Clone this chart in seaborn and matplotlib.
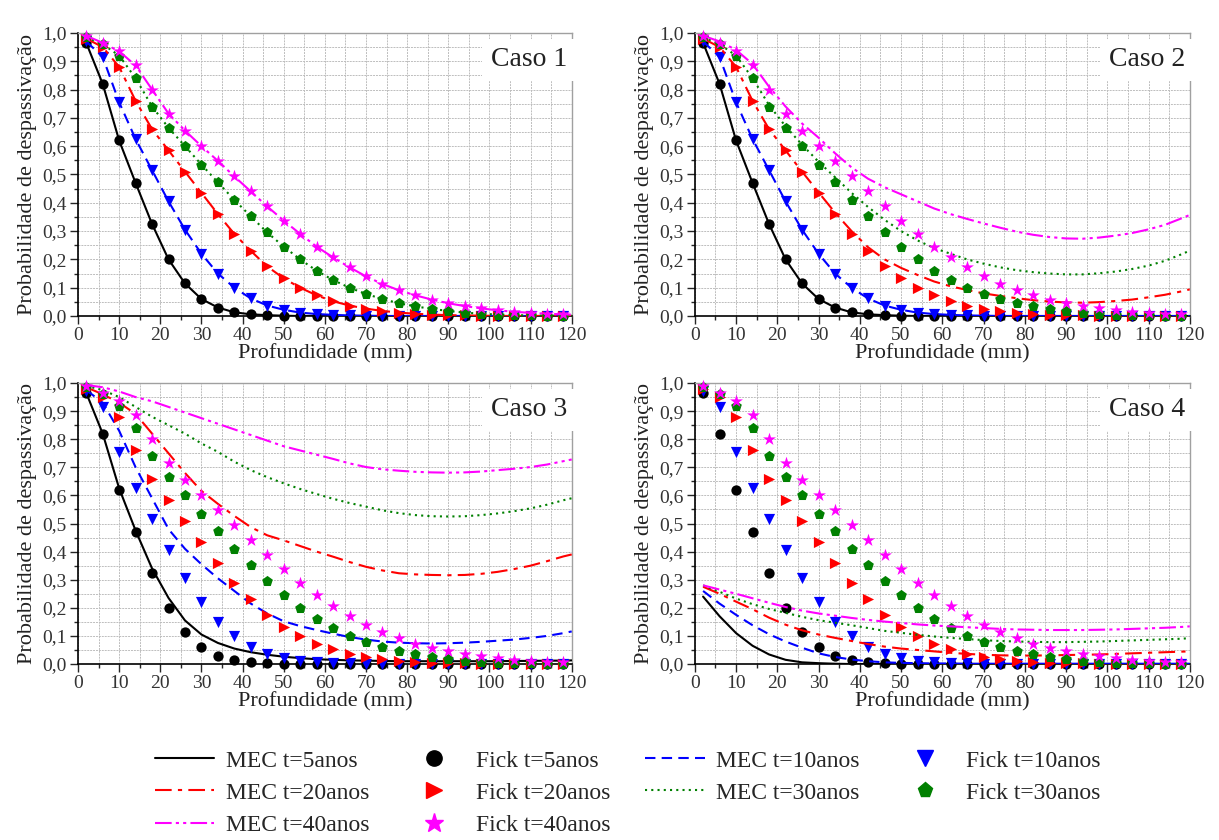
import matplotlib
matplotlib.use("Agg")
import matplotlib.pyplot as plt
import seaborn as sns
import pandas as pd
from matplotlib.ticker import MultipleLocator, FuncFormatter
from matplotlib.lines import Line2D

# ---------------- data ----------------
depth_fick = [2, 6, 10, 14, 18, 22, 26, 30, 34, 38, 42, 46, 50, 54, 58,
              62, 66, 70, 74, 78, 82, 86, 90, 94, 98, 102, 106, 110, 114, 118]
depth_mec = depth_fick + [120]

fick_t5 = [0.965, 0.82, 0.62, 0.47, 0.325, 0.20, 0.115, 0.06, 0.03, 0.013, 0.006, 0.003, 0.001,
           0, 0, 0, 0, 0, 0, 0, 0, 0, 0, 0, 0, 0, 0, 0, 0, 0]
fick_t10 = [0.97, 0.915, 0.755, 0.625, 0.515, 0.405, 0.305, 0.22, 0.15, 0.10, 0.062, 0.037, 0.022,
            0.012, 0.007, 0.004, 0.002, 0.001, 0, 0, 0, 0, 0, 0, 0, 0, 0, 0, 0, 0]
fick_t20 = [0.98, 0.95, 0.88, 0.76, 0.66, 0.585, 0.51, 0.435, 0.36, 0.29, 0.23, 0.175, 0.133, 0.10,
            0.073, 0.052, 0.037, 0.026, 0.018, 0.012, 0.008, 0.005, 0.003, 0.002, 0.001, 0, 0, 0, 0, 0]
fick_t30 = [0.985, 0.96, 0.92, 0.84, 0.74, 0.665, 0.60, 0.535, 0.472, 0.41, 0.352, 0.295, 0.245,
            0.20, 0.16, 0.127, 0.10, 0.078, 0.06, 0.045, 0.034, 0.025, 0.018, 0.012, 0.008, 0.005,
            0.003, 0.002, 0.001, 0.001]
fick_t40 = [0.99, 0.965, 0.935, 0.885, 0.80, 0.715, 0.655, 0.60, 0.548, 0.493, 0.44, 0.387, 0.337,
            0.29, 0.245, 0.207, 0.172, 0.14, 0.113, 0.091, 0.073, 0.058, 0.045, 0.035, 0.027, 0.02,
            0.015, 0.011, 0.008, 0.006]

# MEC curves, case 1 (coincide with Fick)
mec1_t5 = fick_t5 + [0.0]
mec1_t10 = fick_t10 + [0.0]
mec1_t20 = fick_t20 + [0.0]
mec1_t30 = fick_t30 + [0.001]
mec1_t40 = fick_t40 + [0.005]

# case 2
mec2_t5 = fick_t5 + [0.0]
mec2_t10 = fick_t10 + [0.0]
mec2_t20 = [0.98, 0.95, 0.88, 0.76, 0.66, 0.585, 0.51, 0.437, 0.365, 0.30, 0.243, 0.20, 0.17, 0.145,
            0.122, 0.105, 0.092, 0.080, 0.071, 0.063, 0.056, 0.051, 0.048, 0.047, 0.049, 0.053,
            0.058, 0.066, 0.075, 0.087, 0.094]
mec2_t30 = [0.985, 0.96, 0.92, 0.84, 0.745, 0.67, 0.605, 0.545, 0.49, 0.435, 0.385, 0.34, 0.30,
            0.267, 0.24, 0.22, 0.20, 0.185, 0.172, 0.162, 0.155, 0.15, 0.147, 0.147, 0.151, 0.157,
            0.166, 0.178, 0.195, 0.218, 0.231]
mec2_t40 = [0.99, 0.97, 0.94, 0.89, 0.81, 0.74, 0.68, 0.63, 0.575, 0.525, 0.485, 0.455, 0.43, 0.405,
            0.38, 0.36, 0.343, 0.327, 0.312, 0.298, 0.287, 0.279, 0.274, 0.273, 0.277, 0.284,
            0.293, 0.306, 0.322, 0.345, 0.357]

# case 3
mec3_t5 = [0.965, 0.82, 0.625, 0.475, 0.34, 0.235, 0.155, 0.105, 0.075, 0.055, 0.042, 0.033, 0.026,
           0.021, 0.017, 0.015, 0.013, 0.012, 0.011, 0.010, 0.010, 0.010, 0.010, 0.010, 0.010,
           0.010, 0.011, 0.011, 0.012, 0.012, 0.013]
mec3_t10 = [0.975, 0.93, 0.83, 0.70, 0.59, 0.48, 0.41, 0.355, 0.305, 0.26, 0.215, 0.18, 0.152, 0.135,
            0.121, 0.108, 0.096, 0.087, 0.080, 0.076, 0.074, 0.073, 0.074, 0.076, 0.079, 0.083,
            0.087, 0.093, 0.100, 0.110, 0.116]
mec3_t20 = [0.985, 0.96, 0.93, 0.89, 0.82, 0.75, 0.68, 0.616, 0.57, 0.527, 0.487, 0.458, 0.44, 0.42,
            0.40, 0.382, 0.363, 0.346, 0.333, 0.323, 0.319, 0.317, 0.316, 0.317, 0.321, 0.328,
            0.338, 0.35, 0.366, 0.383, 0.39]
mec3_t30 = [0.99, 0.975, 0.95, 0.915, 0.88, 0.85, 0.82, 0.785, 0.755, 0.72, 0.69, 0.665, 0.643,
            0.623, 0.605, 0.588, 0.573, 0.56, 0.547, 0.537, 0.53, 0.526, 0.525, 0.526, 0.53, 0.536,
            0.544, 0.554, 0.567, 0.583, 0.59]
mec3_t40 = [0.993, 0.985, 0.97, 0.95, 0.935, 0.915, 0.895, 0.875, 0.855, 0.835, 0.815, 0.795, 0.775,
            0.76, 0.745, 0.73, 0.714, 0.701, 0.693, 0.688, 0.684, 0.682, 0.681, 0.682, 0.685, 0.69,
            0.695, 0.701, 0.71, 0.722, 0.728]

# case 4
mec4_t5 = [0.24, 0.17, 0.11, 0.065, 0.034, 0.015, 0.006, 0.003, 0.001, 0, 0, 0, 0, 0, 0, 0, 0, 0,
           0, 0, 0, 0, 0, 0, 0, 0, 0, 0, 0, 0, 0]
mec4_t10 = [0.26, 0.215, 0.175, 0.138, 0.106, 0.08, 0.058, 0.038, 0.025, 0.016, 0.01, 0.006, 0.004,
            0.003, 0.002, 0.002, 0.001, 0.001, 0.001, 0.001, 0.001, 0.001, 0.001, 0.001, 0.001,
            0.001, 0.001, 0.001, 0.001, 0.001, 0.001]
mec4_t20 = [0.275, 0.25, 0.222, 0.195, 0.165, 0.14, 0.12, 0.105, 0.093, 0.082, 0.071, 0.062, 0.055,
            0.05, 0.045, 0.04, 0.036, 0.033, 0.031, 0.03, 0.03, 0.031, 0.032, 0.033, 0.034, 0.036,
            0.038, 0.04, 0.042, 0.044, 0.045]
mec4_t30 = [0.28, 0.257, 0.233, 0.213, 0.196, 0.182, 0.168, 0.156, 0.147, 0.138, 0.128, 0.118,
            0.111, 0.104, 0.098, 0.093, 0.089, 0.085, 0.082, 0.08, 0.079, 0.078, 0.078, 0.079,
            0.08, 0.082, 0.084, 0.086, 0.088, 0.09, 0.092]
mec4_t40 = [0.28, 0.265, 0.25, 0.234, 0.218, 0.203, 0.19, 0.18, 0.172, 0.164, 0.157, 0.151, 0.146,
            0.141, 0.137, 0.134, 0.131, 0.128, 0.125, 0.123, 0.122, 0.121, 0.121, 0.121, 0.122,
            0.123, 0.125, 0.127, 0.129, 0.132, 0.134]

case_titles = ["Caso 1", "Caso 2", "Caso 3", "Caso 4"]
periods = ["5", "10", "20", "30", "40"]
fick_series = [fick_t5, fick_t10, fick_t20, fick_t30, fick_t40]
mec_cases = [
    [mec1_t5, mec1_t10, mec1_t20, mec1_t30, mec1_t40],
    [mec2_t5, mec2_t10, mec2_t20, mec2_t30, mec2_t40],
    [mec3_t5, mec3_t10, mec3_t20, mec3_t30, mec3_t40],
    [mec4_t5, mec4_t10, mec4_t20, mec4_t30, mec4_t40],
]

# ---------------- styles ----------------
colors = ["#000000", "#0000FF", "#FF0000", "#008000", "#FF00FF"]
linestyles = ["-", (0, (5, 3)), (0, (8, 3, 2, 3)), (0, (1, 2)), (0, (8, 2, 1.5, 2, 1.5, 2))]
markers = ["o", "v", ">", "p", "*"]
msizes = [55, 65, 65, 65, 95]

sns.set_style("white")
plt.rcParams["font.family"] = ["Liberation Serif", "DejaVu Serif"]

fig = plt.figure(figsize=(12.19, 8.40), dpi=100)
positions = [
    [0.064, 0.6238, 0.405, 0.337],
    [0.570, 0.6238, 0.406, 0.337],
    [0.064, 0.2095, 0.405, 0.3345],
    [0.570, 0.2095, 0.406, 0.3345],
]

comma = FuncFormatter(lambda v, p: f"{v:.1f}".replace(".", ","))
intfmt = FuncFormatter(lambda v, p: f"{v:.0f}")

for ci, pos in enumerate(positions):
    ax = fig.add_axes(pos)
    for k in range(5):
        df_m = pd.DataFrame({"x": depth_mec, "y": mec_cases[ci][k]})
        sns.lineplot(data=df_m, x="x", y="y", ax=ax, color=colors[k], linestyle=linestyles[k],
                     linewidth=1.5, estimator=None, sort=False, zorder=3 + 2 * k)
        df_f = pd.DataFrame({"x": depth_fick, "y": fick_series[k]})
        sns.scatterplot(data=df_f, x="x", y="y", ax=ax, color=colors[k], marker=markers[k],
                        s=msizes[k], linewidth=0, edgecolor=colors[k], zorder=4 + 2 * k,
                        clip_on=False)
    ax.set_xlim(0, 120)
    ax.set_ylim(0, 1.0)
    ax.xaxis.set_major_locator(MultipleLocator(10))
    ax.xaxis.set_minor_locator(MultipleLocator(5))
    ax.yaxis.set_major_locator(MultipleLocator(0.1))
    ax.yaxis.set_minor_locator(MultipleLocator(0.05))
    ax.xaxis.set_major_formatter(intfmt)
    ax.yaxis.set_major_formatter(comma)
    ax.grid(which="both", color="#bdbdbd", linestyle=(0, (2, 1)), linewidth=0.7, zorder=0)
    ax.set_axisbelow(True)
    ax.tick_params(axis="both", which="major", direction="out", length=6, width=1,
                   labelsize=14, pad=2, bottom=True, left=True, top=False, right=False,
                   labelcolor="#333333")
    ax.tick_params(axis="both", which="minor", direction="out", length=3, width=1,
                   bottom=True, left=True, top=False, right=False)
    for side in ["left", "bottom"]:
        ax.spines[side].set_color("black")
        ax.spines[side].set_linewidth(1.2)
    for side in ["top", "right"]:
        ax.spines[side].set_color("#a0a0a0")
        ax.spines[side].set_linewidth(1.0)
    ax.set_xlabel("Profundidade (mm)", fontsize=16, labelpad=0, color="#222222")
    ax.set_ylabel("Probabilidade de despassivação", fontsize=16, labelpad=4, color="#222222")
    ax.text(0.99, 0.905, case_titles[ci], transform=ax.transAxes, ha="right", va="center",
            fontsize=20, zorder=20, color="#222222",
            bbox=dict(facecolor="white", edgecolor="none", pad=6))

# ---------------- legend ----------------
h_mec = [Line2D([], [], color=colors[k], linestyle=linestyles[k], linewidth=1.5) for k in range(5)]
h_fick = [Line2D([], [], color=colors[k], marker=markers[k], linestyle="none",
                 markersize=(11 if k != 4 else 14)) for k in range(5)]
lab_mec = [f"MEC t={p}anos" for p in periods]
lab_fick = [f"Fick t={p}anos" for p in periods]
order = [(h_mec[0], lab_mec[0]), (h_mec[2], lab_mec[2]), (h_mec[4], lab_mec[4]),
         (h_fick[0], lab_fick[0]), (h_fick[2], lab_fick[2]), (h_fick[4], lab_fick[4]),
         (h_mec[1], lab_mec[1]), (h_mec[3], lab_mec[3]),
         (h_fick[1], lab_fick[1]), (h_fick[3], lab_fick[3])]
fig.legend([o[0] for o in order], [o[1] for o in order], ncol=4, loc="center",
           bbox_to_anchor=(0.515, 0.056), frameon=False, fontsize=17,
           handlelength=2.5, handletextpad=0.5, columnspacing=1.5, labelspacing=0.45)

fig.savefig("out.png", dpi=100)
